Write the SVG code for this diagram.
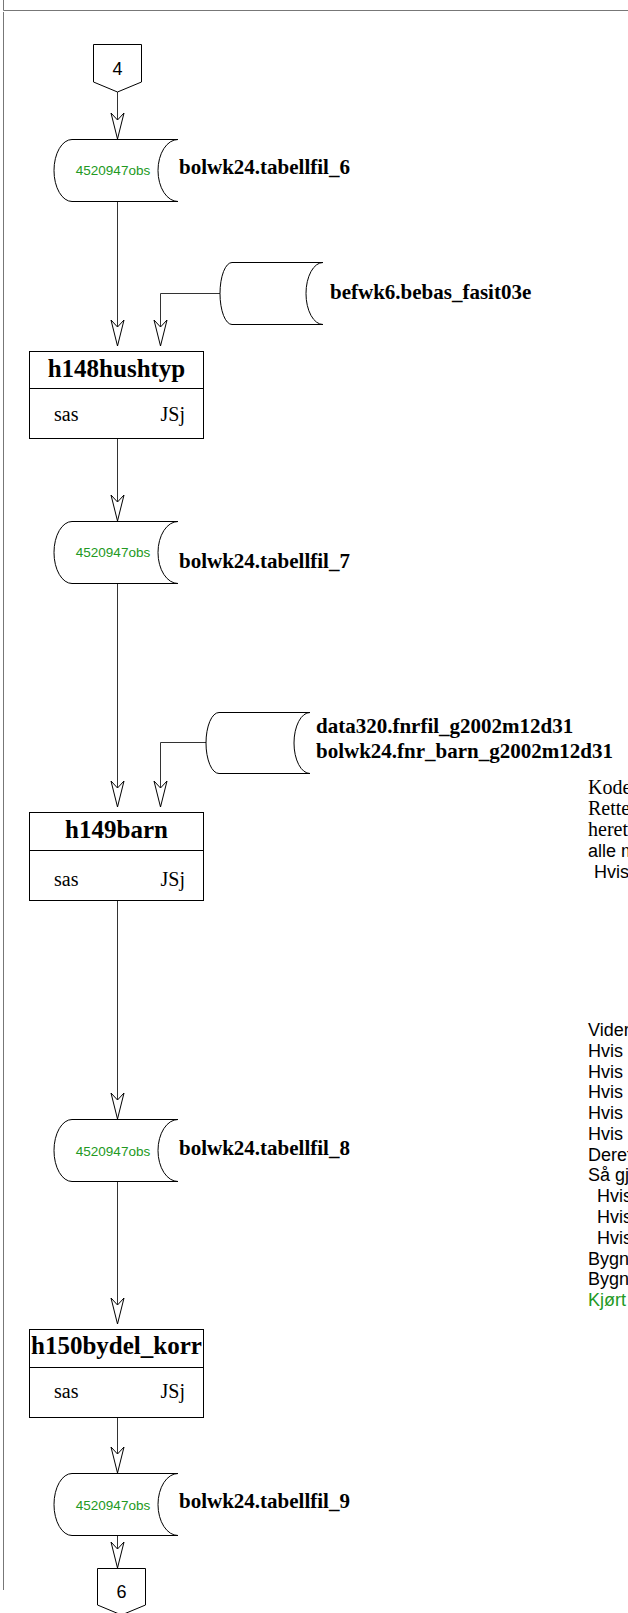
<svg xmlns="http://www.w3.org/2000/svg" xmlns:xlink="http://www.w3.org/1999/xlink" width="628" height="1613" viewBox="0 0 628 1613">
<style>
.frame{fill:none;stroke:#777;stroke-width:1}
.shape{fill:#fff;stroke:#000;stroke-width:1}
.conn{fill:none;stroke:#333;stroke-width:1}
.obs{font-family:"Liberation Sans",Arial,sans-serif;font-size:13.5px;fill:#229922;text-anchor:middle}
.lbl{font-family:"Liberation Serif","Times New Roman",serif;font-size:21px;font-weight:bold;fill:#000}
.title{font-family:"Liberation Serif","Times New Roman",serif;font-size:25px;font-weight:bold;fill:#000;text-anchor:middle}
.meta{font-family:"Liberation Serif","Times New Roman",serif;font-size:20px;fill:#000}
.pg{font-family:"Liberation Sans",Arial,sans-serif;font-size:18px;fill:#000;text-anchor:middle}
.ser{font-family:"Liberation Serif","Times New Roman",serif;font-size:20px;fill:#000}
.san{font-family:"Liberation Sans",Arial,sans-serif;font-size:18px;fill:#000}
.grn{fill:#229922}
</style>
<defs>
<path id="ah" d="M0,0 L-6.5,-26 L0,-19 L6.5,-26 Z" fill="#fff" stroke="#000" stroke-width="1"/>
</defs>
<g id="frame">
<path class="frame" d="M3.5,0 V10.5 H628 M3.5,12 V1590"/>
</g>
<g id="connectors">
<path class="conn" d="M117.5,92 V139"/>
<path class="conn" d="M117.5,201 V346"/>
<path class="conn" d="M220,293.5 H160.5 V346"/>
<path class="conn" d="M117.5,438 V521"/>
<path class="conn" d="M117.5,583 V807"/>
<path class="conn" d="M206,742.5 H160.5 V807"/>
<path class="conn" d="M117.5,901 V1119"/>
<path class="conn" d="M117.5,1182 V1324"/>
<path class="conn" d="M117.5,1417 V1473"/>
<path class="conn" d="M117.5,1536 V1568"/>
<use xlink:href="#ah" x="117.5" y="139"/>
<use xlink:href="#ah" x="117.5" y="346"/>
<use xlink:href="#ah" x="160.5" y="346"/>
<use xlink:href="#ah" x="117.5" y="521"/>
<use xlink:href="#ah" x="117.5" y="807"/>
<use xlink:href="#ah" x="160.5" y="807"/>
<use xlink:href="#ah" x="117.5" y="1119"/>
<use xlink:href="#ah" x="117.5" y="1324"/>
<use xlink:href="#ah" x="117.5" y="1473"/>
<use xlink:href="#ah" x="117.5" y="1568"/>
</g>
<g id="page4">
<path class="shape" d="M93.5,44.5 H141.5 V82 L117.5,92 L93.5,82 Z"/>
<text class="pg" x="117.5" y="75">4</text>
</g>
<g id="tabellfil_6">
<path class="shape" d="M72,139.5 H178 A20,31 0 0 0 178,201.5 H72 A18,31 0 0 1 72,139.5 Z"/>
<text class="obs" x="113" y="175">4520947obs</text>
<text class="lbl" x="179" y="174">bolwk24.tabellfil_6</text>
</g>
<g id="bebas_fasit03e">
<path class="shape" d="M232,262.5 H323 A17,31 0 0 0 323,324.5 H232 A12,31 0 0 1 232,262.5 Z"/>
<text class="lbl" x="330" y="299">befwk6.bebas_fasit03e</text>
</g>
<g id="h148hushtyp">
<rect class="shape" x="29.5" y="351.5" width="174" height="87"/>
<line class="shape" x1="29.5" y1="388.5" x2="203.5" y2="388.5"/>
<text class="title" x="116.5" y="377">h148hushtyp</text>
<text class="meta" x="54" y="421">sas</text>
<text class="meta" x="185" y="421" text-anchor="end">JSj</text>
</g>
<g id="tabellfil_7">
<path class="shape" d="M72,521.5 H178 A20,31 0 0 0 178,583.5 H72 A18,31 0 0 1 72,521.5 Z"/>
<text class="obs" x="113" y="557">4520947obs</text>
<text class="lbl" x="179" y="568">bolwk24.tabellfil_7</text>
</g>
<g id="fnrfil">
<path class="shape" d="M219,712.5 H310 A16,30.5 0 0 0 310,773.5 H219 A13,30.5 0 0 1 219,712.5 Z"/>
<text class="lbl" x="316" y="733">data320.fnrfil_g2002m12d31</text>
<text class="lbl" x="316" y="758">bolwk24.fnr_barn_g2002m12d31</text>
</g>
<g id="h149barn">
<rect class="shape" x="29.5" y="812.5" width="174" height="88"/>
<line class="shape" x1="29.5" y1="850.5" x2="203.5" y2="850.5"/>
<text class="title" x="116.5" y="838">h149barn</text>
<text class="meta" x="54" y="886">sas</text>
<text class="meta" x="185" y="886" text-anchor="end">JSj</text>
</g>
<g id="tabellfil_8">
<path class="shape" d="M72,1119.5 H178 A20,31 0 0 0 178,1181.5 H72 A18,31 0 0 1 72,1119.5 Z"/>
<text class="obs" x="113" y="1156">4520947obs</text>
<text class="lbl" x="179" y="1155">bolwk24.tabellfil_8</text>
</g>
<g id="h150bydel_korr">
<rect class="shape" x="29.5" y="1329.5" width="174" height="88"/>
<line class="shape" x1="29.5" y1="1367.5" x2="203.5" y2="1367.5"/>
<text class="title" x="116.5" y="1354">h150bydel_korr</text>
<text class="meta" x="54" y="1398">sas</text>
<text class="meta" x="185" y="1398" text-anchor="end">JSj</text>
</g>
<g id="tabellfil_9">
<path class="shape" d="M72,1473.5 H178 A20,31 0 0 0 178,1535.5 H72 A18,31 0 0 1 72,1473.5 Z"/>
<text class="obs" x="113" y="1510">4520947obs</text>
<text class="lbl" x="179" y="1508">bolwk24.tabellfil_9</text>
</g>
<g id="page6">
<path class="shape" d="M97.5,1568.5 H145.5 V1605 L121.5,1615 L97.5,1605 Z"/>
<text class="pg" x="121.5" y="1598">6</text>
</g>
<g id="notes">
<text class="ser" x="588" y="794">Kode</text>
<text class="ser" x="588" y="815">Rette</text>
<text class="ser" x="588" y="836">heret</text>
<text class="san" x="588" y="857">alle m</text>
<text class="san" x="594" y="878">Hvis</text>
<text class="san" x="588" y="1036">Vider</text>
<text class="san" x="588" y="1057">Hvis</text>
<text class="san" x="588" y="1078">Hvis</text>
<text class="san" x="588" y="1098">Hvis</text>
<text class="san" x="588" y="1119">Hvis</text>
<text class="san" x="588" y="1140">Hvis</text>
<text class="san" x="588" y="1161">Deret</text>
<text class="san" x="588" y="1181">Så gj</text>
<text class="san" x="597" y="1202">Hvis</text>
<text class="san" x="597" y="1223">Hvis</text>
<text class="san" x="597" y="1244">Hvis</text>
<text class="san" x="588" y="1265">Bygn</text>
<text class="san" x="588" y="1285">Bygn</text>
<text class="san grn" x="588" y="1306">Kjørt</text>
</g>
</svg>
